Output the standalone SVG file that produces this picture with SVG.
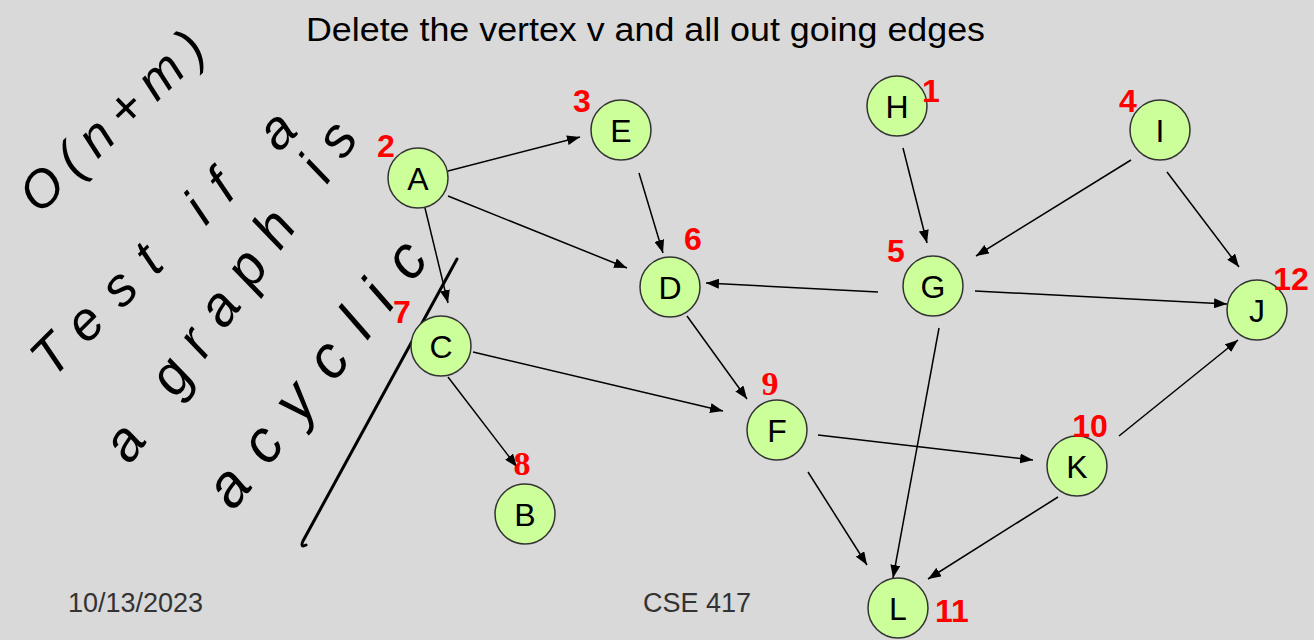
<svg xmlns="http://www.w3.org/2000/svg" width="1314" height="640" viewBox="0 0 1314 640">
<defs>
<marker id="ah" markerUnits="userSpaceOnUse" markerWidth="14" markerHeight="10" refX="13" refY="5" orient="auto">
<path d="M0,0 L13,5 L0,10 z" fill="#000"/>
</marker>
<style>
.node circle{fill:#ccff99;stroke:#333;stroke-width:1.5}
.node text.l{font-family:"Liberation Sans",Arial,sans-serif;font-size:32px;text-anchor:middle;fill:#000}
.num{font-family:"Liberation Sans",Arial,sans-serif;font-size:32px;font-weight:bold;fill:#ff0000;text-anchor:middle}
.nums{font-family:"Liberation Serif","Times New Roman",serif;font-size:34px;font-weight:bold;fill:#ff0000;text-anchor:middle}
.edges line{stroke:#000;stroke-width:1.5;marker-end:url(#ah)}
.hw{font-family:"Liberation Sans",Arial,sans-serif;fill:#000;text-anchor:middle;font-style:italic}
.foot{font-family:"Liberation Sans",Arial,sans-serif;font-size:27px;fill:#333}
</style>
</defs>
<rect width="1314" height="640" fill="#d9d9d9"/>
<text x="306" y="41" font-family="Liberation Sans, Arial, sans-serif" font-size="34" textLength="679" lengthAdjust="spacingAndGlyphs" fill="#000">Delete the vertex v and all out going edges</text>

<g id="handwriting">
<text class="hw" font-size="52" x="124" y="134" transform="rotate(-44 124 134)" textLength="235" lengthAdjust="spacing">O(n+m)</text>
<text class="hw" font-size="54" x="176" y="256" transform="rotate(-45 176 256)" textLength="350" lengthAdjust="spacing">Test if a</text>
<text class="hw" font-size="56" x="245" y="302" transform="rotate(-55 245 302)" textLength="400" lengthAdjust="spacing">a graph is</text>
<text class="hw" font-size="60" x="332" y="386" transform="rotate(-52 332 386)" textLength="320" lengthAdjust="spacing">acyclic</text>
<path d="M457,259 L303,541 Q300,548 306,545" fill="none" stroke="#000" stroke-width="3" stroke-linecap="round"/>
</g>

<g id="connectors" class="edges">
<line x1="448" y1="171" x2="580" y2="137"/>
<line x1="448" y1="196" x2="627" y2="268"/>
<line x1="425" y1="208" x2="448" y2="303"/>
<line x1="639" y1="173" x2="663" y2="253"/>
<line x1="687" y1="316" x2="747" y2="399"/>
<line x1="473" y1="352" x2="723" y2="411"/>
<line x1="448" y1="377" x2="517" y2="467"/>
<line x1="818" y1="435" x2="1033" y2="460"/>
<line x1="808" y1="472" x2="867" y2="565"/>
<line x1="939" y1="328" x2="893" y2="578"/>
<line x1="1058" y1="497" x2="928" y2="579"/>
<line x1="1119" y1="436" x2="1238" y2="340"/>
<line x1="903" y1="148" x2="927" y2="243"/>
<line x1="1131" y1="160" x2="976" y2="256"/>
<line x1="1167" y1="172" x2="1239" y2="267"/>
<line x1="975" y1="291" x2="1227" y2="304"/>
<line x1="878" y1="292" x2="706" y2="283"/>
</g>

<g id="node-A" class="node"><circle cx="418" cy="178" r="30"/><text class="l" x="418" y="189.5">A</text><text class="num" x="386" y="157">2</text></g>
<g id="node-E" class="node"><circle cx="621" cy="130" r="30"/><text class="l" x="621" y="141.5">E</text><text class="num" x="582" y="112">3</text></g>
<g id="node-D" class="node"><circle cx="670" cy="287" r="30"/><text class="l" x="670" y="298.5">D</text><text class="num" x="693" y="250">6</text></g>
<g id="node-H" class="node"><circle cx="897" cy="106" r="30"/><text class="l" x="897" y="117.5">H</text><text class="num" x="931" y="102">1</text></g>
<g id="node-I" class="node"><circle cx="1160" cy="130" r="30"/><text class="l" x="1160" y="141.5">I</text><text class="num" x="1128" y="112">4</text></g>
<g id="node-G" class="node"><circle cx="933" cy="286" r="30"/><text class="l" x="933" y="297.5">G</text><text class="num" x="896" y="262">5</text></g>
<g id="node-J" class="node"><circle cx="1257" cy="310" r="30"/><text class="l" x="1257" y="321.5">J</text><text class="num" x="1291" y="290">12</text></g>
<g id="node-C" class="node"><circle cx="441" cy="346" r="30"/><text class="l" x="441" y="357.5">C</text><text class="num" x="402" y="323">7</text></g>
<g id="node-B" class="node"><circle cx="525" cy="514" r="30"/><text class="l" x="525" y="525.5">B</text><text class="nums" x="522" y="475">8</text></g>
<g id="node-F" class="node"><circle cx="777" cy="430" r="30"/><text class="l" x="777" y="441.5">F</text><text class="nums" x="770" y="395">9</text></g>
<g id="node-K" class="node"><circle cx="1077" cy="466" r="30"/><text class="l" x="1077" y="477.5">K</text><text class="num" x="1090" y="437">10</text></g>
<g id="node-L" class="node"><circle cx="898" cy="608" r="30"/><text class="l" x="898" y="619.5">L</text><text class="num" x="952" y="622">11</text></g>

<text class="foot" x="68" y="612">10/13/2023</text>
<text class="foot" x="643" y="612">CSE 417</text>
</svg>
